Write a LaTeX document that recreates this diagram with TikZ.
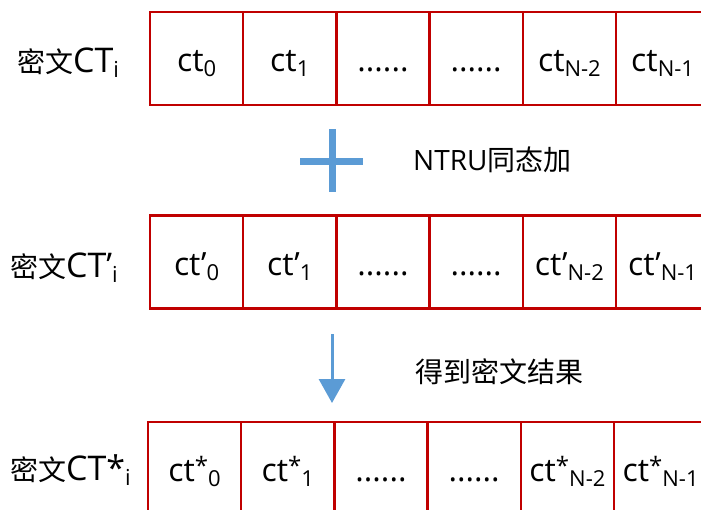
\documentclass[tikz,border=0pt]{standalone}
\usepackage{fontspec}
\setmainfont{Open Sans}
\newfontfamily\cjk{Noto Sans CJK SC}
\usetikzlibrary{arrows.meta}
\definecolor{cellred}{HTML}{C00000}
\definecolor{opblue}{HTML}{5B9BD5}
% lowered index and small raised star
\newcommand\lo[1]{\raisebox{-0.16em}{\fontsize{22}{22}\selectfont #1}}
\newcommand\hstar{\raisebox{7pt}{\fontsize{24}{24}\selectfont *}}
% one row of six cells: name, left x, centre y, four texts
\newcommand\cellrow[7]{%
  \node[cell] (#1-0) at (#2+46.6,#3) {#4};
  \node[cell] (#1-1) at (#2+139.8,#3) {#5};
  \node[cell] (#1-2) at (#2+233.0,#3) {......};
  \node[cell] (#1-3) at (#2+326.2,#3) {......};
  \node[cell] (#1-4) at (#2+419.4,#3) {#6};
  \node[cell] (#1-5) at (#2+512.6,#3) {#7};
}
\begin{document}
\begin{tikzpicture}[x=1pt,y=-1pt,
  cell/.style={draw=cellred,line width=2.4pt,minimum width=93.2pt,minimum height=93pt,
    inner sep=0pt,text height=30pt,text depth=4pt,font=\fontsize{32}{32}\selectfont},
  rowlabel/.style={anchor=base west,inner sep=0pt,font=\fontsize{34}{34}\selectfont},
  note/.style={anchor=west,inner sep=0pt,font=\fontsize{28}{28}\selectfont},
  blueop/.style={draw=opblue,line width=7pt}]
\useasboundingbox (0,0) rectangle (701,509);
\clip (0,0) rectangle (701,509);

% ciphertext rows
\cellrow{a}{150}{58.5}{ct\lo{0}}{ct\lo{1}}{ct\lo{N-2}}{ct\lo{N-1}}
\cellrow{b}{150}{262}{ct’\lo{0}}{ct’\lo{1}}{ct’\lo{N-2}}{ct’\lo{N-1}}
\cellrow{c}{148}{468.5}{ct\hstar\lo{0}}{ct\hstar\lo{1}}{ct\hstar\lo{N-2}}{ct\hstar\lo{N-1}}

% row labels
\node[rowlabel] (la) at (17,72) {{\fontsize{28}{28}\cjk 密文}CT\lo{i}};
\node[rowlabel] (lb) at (10,277) {{\fontsize{28}{28}\cjk 密文}CT’\lo{i}};
\node[rowlabel] (lc) at (10,480) {{\fontsize{28}{28}\cjk 密文}CT*\lo{i}};

% homomorphic addition sign
\coordinate (pt) at (332,129);
\coordinate (pb) at (332,192);
\coordinate (pl) at (300,161);
\coordinate (pr) at (363,161);
\draw[blueop] (pt) -- (pb);
\draw[blueop] (pl) -- (pr);
\node[note] (addtxt) at (413,160) {NTRU{\cjk 同态加}};

% result arrow
\coordinate (at) at (332,334);
\coordinate (ab) at (332,403);
\draw[draw=opblue,line width=3pt,-{Triangle[width=26pt,length=24pt]}] (at) -- (ab);
\node[note] (restxt) at (415,372) {\cjk 得到密文结果};
\end{tikzpicture}
\end{document}
